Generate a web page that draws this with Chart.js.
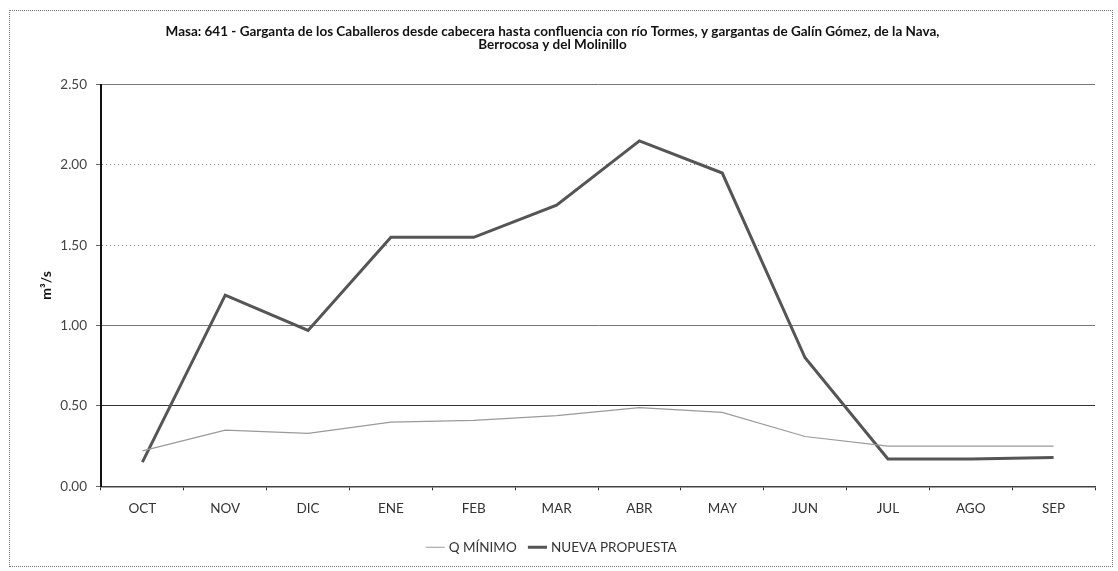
<!DOCTYPE html>
<html>
<head>
<meta charset="utf-8">
<script src="https://cdn.jsdelivr.net/npm/chart.js@4"></script>
<style>
    html, body { margin: 0; padding: 0; background: #fff; }
    #box {
        position: absolute; left: 9px; top: 10px;
        width: 1102px; height: 555px;
        border: 1px dotted #777;
    }
</style>
</head>
<body>
<div id="box"><canvas id="myChart" width="1102" height="555"></canvas></div>
<script>
const meses = ["OCT", "NOV", "DIC", "ENE", "FEB", "MAR", "ABR", "MAY", "JUN", "JUL", "AGO", "SEP"];
const qMinimo = [0.22, 0.35, 0.33, 0.40, 0.41, 0.44, 0.49, 0.46, 0.31, 0.25, 0.25, 0.25];
const nuevaPropuesta = [0.15, 1.19, 0.97, 1.55, 1.55, 1.75, 2.15, 1.95, 0.80, 0.17, 0.17, 0.18];
const yTicks = [0, 0.5, 1.0, 1.5, 2.0, 2.5];

const tituloMasa = [
    "Masa: 641 - Garganta de los Caballeros desde cabecera hasta confluencia con río Tormes, y gargantas de Galín Gómez, de la Nava,",
    "Berrocosa y del Molinillo"
];

const FONT = "Lato, 'Open Sans', sans-serif";

// gridline look per value (dotted for some, solid for others)
function gridColor(ctx) {
    const v = ctx.tick ? ctx.tick.value : null;
    if (v === 0.5) return "#333";
    if (v === 1.0 || v === 2.5) return "#777";
    return "#888";
}
function gridDash(ctx) {
    const v = ctx.tick ? ctx.tick.value : null;
    if (v === 2.0 || v === 1.5) return [1, 3];
    return [];
}

const ctx = document.getElementById("myChart");

let myChart = new Chart(ctx, {
    type: "line",
    data: {
        labels: meses,
        datasets: [
            {
                label: "Q MÍNIMO",
                data: qMinimo,
                borderColor: "#9a9a9a",
                backgroundColor: "#9a9a9a",
                borderWidth: 1.2,
                pointRadius: 0,
                tension: 0,
            },
            {
                label: "NUEVA PROPUESTA",
                data: nuevaPropuesta,
                borderColor: "#555",
                backgroundColor: "#555",
                borderWidth: 3,
                pointRadius: 0,
                tension: 0,
            },
        ],
    },
    options: {
        responsive: false,
        animation: false,
        layout: {
            padding: { left: 0, right: 17, top: 0, bottom: 2 }
        },
        plugins: {
            title: {
                display: true,
                text: tituloMasa,
                color: "#111",
                font: { family: FONT, size: 13.5, weight: "bold", lineHeight: 0.95 },
                padding: { top: 14, bottom: 34 }
            },
            legend: {
                display: true,
                position: "bottom",
                labels: {
                    color: "#333",
                    font: { family: FONT, size: 13.5 },
                    usePointStyle: true,
                    pointStyle: "line",
                    boxWidth: 36,
                    padding: 14
                }
            },
            tooltip: { enabled: false }
        },
        scales: {
            x: {
                offset: true,
                ticks: {
                    color: "#333",
                    font: { family: FONT, size: 13.5 },
                    padding: 10
                },
                grid: {
                    offset: true,
                    drawOnChartArea: false,
                    drawTicks: true,
                    tickLength: 4,
                    color: "#333"
                },
                border: { color: "#444", width: 1.5 }
            },
            y: {
                min: 0,
                max: 2.5,
                afterBuildTicks: (axis) => {
                    axis.ticks = yTicks.map(v => ({ value: v }));
                },
                afterFit: (axis) => {
                    axis.width = 91;
                },
                title: {
                    display: true,
                    text: "m³/s",
                    color: "#111",
                    font: { family: FONT, size: 14, weight: "bold" },
                    padding: { top: 28, bottom: 0 }
                },
                ticks: {
                    color: "#444",
                    font: { family: FONT, size: 13.5 },
                    padding: 9,
                    callback: (v) => Number(v).toFixed(2)
                },
                grid: {
                    color: gridColor,
                    lineWidth: 1,
                    tickLength: 5,
                    tickColor: "#666"
                },
                border: { color: "#111", width: 2, dash: gridDash }
            }
        }
    }
});
</script>
</body>
</html>
